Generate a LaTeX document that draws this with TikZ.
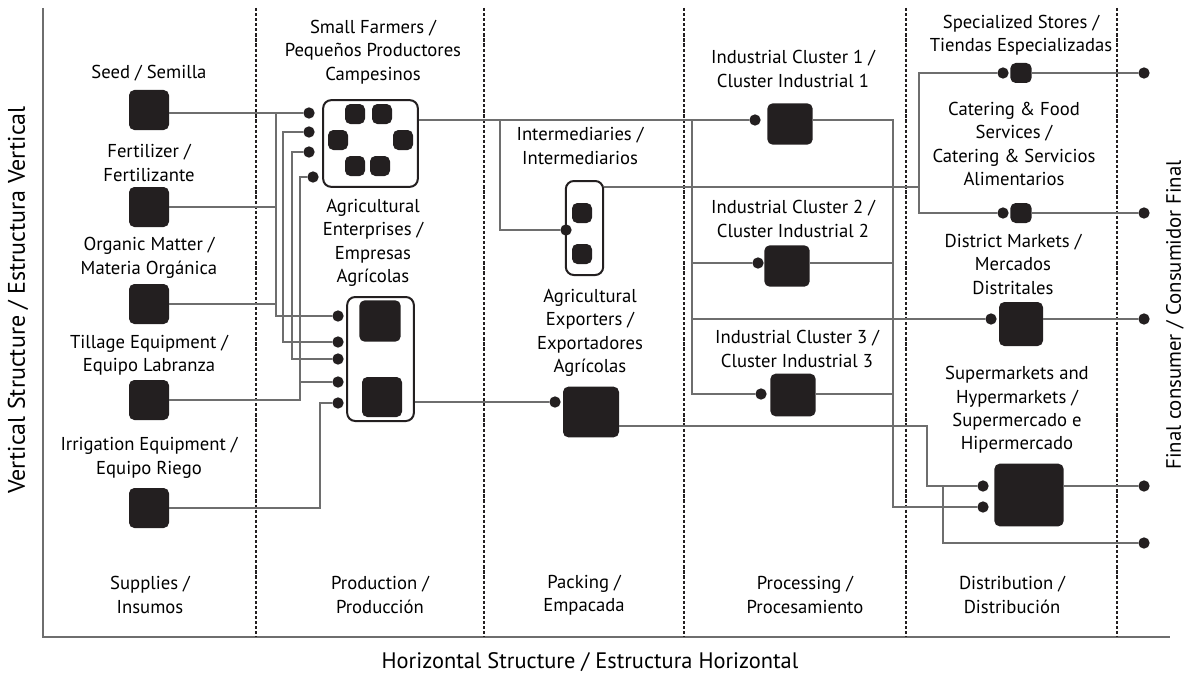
\documentclass[tikz,border=0pt]{standalone}
\usepackage{fontspec}
\setmainfont{PT Sans}
\usetikzlibrary{positioning}
\definecolor{boxblack}{RGB}{35,31,32}
\definecolor{wiregray}{RGB}{110,110,110}

\begin{document}
\begin{tikzpicture}[x=0.75pt, y=-0.75pt,
  font=\fontsize{14}{17.6}\selectfont,
  blk/.style={fill=boxblack, rounded corners=4pt, inner sep=0pt, minimum width=#1, minimum height=#1},
  blk/.default=30pt,
  holder/.style={draw=boxblack, line width=1.5pt, rounded corners=6pt, fill=white, inner sep=0pt},
  dot/.style={circle, fill=boxblack, inner sep=0pt, minimum size=8.5pt},
  wire/.style={wiregray, line width=1pt},
  lab/.style={align=center},
  sep/.style={boxblack, line width=1.4pt, dash pattern=on 2.4pt off 1.4pt},
  axis/.style={wiregray, line width=1.3pt}]

  \useasboundingbox (0,0) rectangle (1188,674);

  % axes and stage separators
  \draw[axis] (43,8) -- (43,637) -- (1170,637);
  \foreach \x in {256,484,684,906,1117}
    \draw[sep] (\x,8) -- (\x,637);

  \node[rotate=90, font=\fontsize{18}{20}\selectfont] (vtitle) at (18,300) {Vertical Structure / Estructura Vertical};
  \node[font=\fontsize{16.8}{20}\selectfont] (htitle) at (590,662) {Horizontal Structure / Estructura Horizontal};
  \node[rotate=90, font=\fontsize{15.6}{20}\selectfont] (ftitle) at (1175,315) {Final consumer / Consumidor Final};

  \foreach \x/\name/\txt in {150/suplab/{Supplies /\\Insumos}, 380/prodlab/{Production /\\Producción},
                             584/packlab/{Packing /\\Empacada}, 805/proclab/{Processing /\\Procesamiento},
                             1012/distlab/{Distribution /\\Distribución}}
    \node[lab] (\name) at (\x,595) {\txt};

  % supplies
  \node[lab] (seedlab) at (149,73) {Seed / Semilla};
  \node[lab] (fertlab) at (149,163) {Fertilizer /\\Fertilizante};
  \node[lab] (orglab) at (149,258) {Organic Matter /\\Materia Orgánica};
  \node[lab] (tilllab) at (149,355) {Tillage Equipment /\\Equipo Labranza};
  \node[lab] (irrlab) at (149,458) {Irrigation Equipment /\\Equipo Riego};
  \node[blk] (seed) at (149,110) {};
  \node[blk] (fert) at (149,207) {};
  \node[blk] (org) at (149,304) {};
  \node[blk] (till) at (149,400) {};
  \node[blk] (irr) at (149,508) {};

  % production
  \node[lab] (sflab) at (373,52) {Small Farmers /\\Pequeños Productores\\Campesinos};
  \node[holder, minimum width=71pt, minimum height=65pt] (sf) at (370.5,143.5) {};
  \foreach \p [count=\i] in {(355,114),(382,114),(338,140),(403,140),(355,166),(380,166)}
    \node[blk=15pt] (sfc\i) at \p {};
  \node[lab] (aelab) at (373,243) {Agricultural\\Enterprises /\\Empresas\\Agrícolas};
  \node[holder, minimum width=50pt, minimum height=93pt] (ae) at (380.5,359) {};
  \node[blk=31pt] (aec1) at (380,321) {};
  \node[blk=30pt] (aec2) at (382,397) {};

  % packing
  \node[lab] (imlab) at (580,146) {Intermediaries /\\Intermediarios};
  \node[holder, minimum width=28pt, minimum height=70.5pt] (im) at (584.5,228) {};
  \node[blk=15pt] (imc1) at (582,213) {};
  \node[blk=15pt] (imc2) at (582,254) {};
  \node[lab] (exlab) at (590,333) {Agricultural\\Exporters /\\Exportadores\\Agrícolas};
  \node[blk=42pt, minimum height=38pt] (ex) at (591,412) {};

  % processing
  \node[lab] (ic1lab) at (793,69) {Industrial Cluster 1 /\\Cluster Industrial 1};
  \node[blk=34pt, minimum height=31pt] (ic1) at (790,124) {};
  \node[lab] (ic2lab) at (793,219) {Industrial Cluster 2 /\\Cluster Industrial 2};
  \node[blk=34pt, minimum height=31pt] (ic2) at (787,266) {};
  \node[lab] (ic3lab) at (797,349) {Industrial Cluster 3 /\\Cluster Industrial 3};
  \node[blk=34pt, minimum height=32pt] (ic3) at (793,395) {};

  % distribution
  \node[lab] (sslab) at (1021,35) {Specialized Stores /\\Tiendas Especializadas};
  \node[blk=16pt, minimum height=15pt] (ss) at (1021,73) {};
  \node[lab] (cflab) at (1014,144) {Catering \& Food\\Services /\\Catering \& Servicios\\Alimentarios};
  \node[blk=16pt, minimum height=15pt] (cf) at (1021,213) {};
  \node[lab] (dmlab) at (1013,264) {District Markets /\\Mercados\\Distritales};
  \node[blk=33pt] (dm) at (1021,324) {};
  \node[lab] (smlab) at (1017,410) {Supermarkets and\\Hypermarkets /\\Supermercado e\\Hipermercado};
  \node[blk=52pt, minimum height=47pt] (sm) at (1029,495) {};

  % connection points
  \foreach \n/\x/\y in {sf1/309/113, sf2/309/132, sf3/309/152, sf4/313/177,
                        ae1/338/316, ae2/338/342, ae3/338/359, ae4/338/382, ae5/338/403,
                        imd/566/230, exd/555/402, ic1d/755/120, ic2d/758/263, ic3d/761/394,
                        ssd/1003/73, cfd/1003/213, dmd/991/319, smd1/983/486, smd2/983/507,
                        out1/1144/73, out2/1144/213, out3/1144/319, out4/1144/486, out5/1144/543}
    \node[dot] (\n) at (\x,\y) {};

  \coordinate (busA) at (276,113);
  \coordinate (busB) at (283,132);
  \coordinate (busC) at (292,152);
  \coordinate (busD) at (300,177);
  \coordinate (busE) at (320,403);
  \coordinate (jim) at (500,120);
  \coordinate (jproc) at (692,120);
  \coordinate (busP) at (893,507);
  \coordinate (busI) at (919,187);
  \coordinate (busX) at (927,426);
  \coordinate (jsm) at (943,486);

  % supplies to production
  \draw[wire] (seed.east |- sf1) -- (sf1);
  \draw[wire] (busA) |- (ae1);
  \draw[wire] (fert.east) -- (fert.east -| busA);
  \draw[wire] (org.east) -- (org.east -| busA);
  \draw[wire] (sf2) -- (busB) |- (ae2);
  \draw[wire] (sf3) -- (busC) |- (ae3);
  \draw[wire] (sf4) -- (busD) |- (ae4);
  \draw[wire] (till.east) -| (busD);
  \draw[wire] (irr.east) -| (busE) -- (ae5);

  % production onwards
  \draw[wire] (sf.east |- ic1d) -- (ic1d);
  \draw[wire] (jim) |- (imd);
  \draw[wire] (jproc) |- (ic3d);
  \draw[wire] (jproc |- ic2d) -- (ic2d);
  \draw[wire] (jproc |- dmd) -- (dmd);
  \draw[wire] (ae.east |- exd) -- (exd);
  \draw[wire] (ic1.east |- ic1d) -| (busP) -- (smd2);
  \draw[wire] (ic2.east |- ic2d) -- (ic2d -| busP);
  \draw[wire] (ic3.east |- ic3d) -- (ic3d -| busP);
  \draw[wire] (im.east |- busI) -- (busI);
  \draw[wire] (ssd) -| (busI) |- (cfd);
  \draw[wire] (ex.east |- busX) -- (busX) |- (smd1);
  \draw[wire] (jsm) |- (out5);

  % to the final consumer
  \draw[wire] (ss) -- (out1);
  \draw[wire] (cf) -- (out2);
  \draw[wire] (dm.east |- out3) -- (out3);
  \draw[wire] (sm.east |- out4) -- (out4);
\end{tikzpicture}
\end{document}
